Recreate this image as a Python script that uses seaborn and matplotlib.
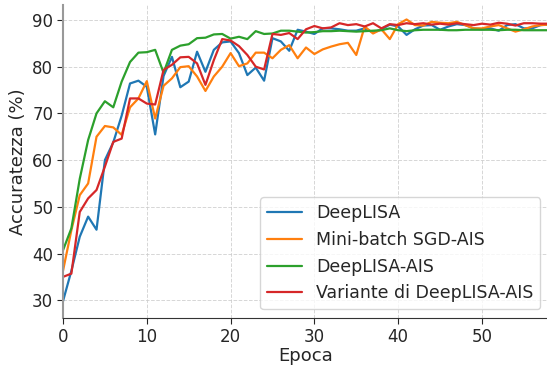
import numpy as np
import pandas as pd
import matplotlib
matplotlib.use("Agg")
import matplotlib.pyplot as plt
import seaborn as sns

epochs = list(range(59))
deeplisa = [29.8, 36.3, 43.6, 47.9, 45.1, 60.0, 63.8, 69.5, 76.4, 77.0, 75.7, 65.5, 78.0, 82.1, 75.6,
            76.8, 83.2, 78.9, 83.6, 85.2, 85.4, 82.9, 78.2, 79.8, 77.0, 86.1, 85.4, 83.4, 87.9, 87.5,
            87.0, 88.2, 88.2, 88.0, 87.7, 87.7, 88.2, 87.3, 88.0, 89.0, 88.6, 86.8, 88.0, 88.8, 88.9,
            87.9, 88.6, 89.1, 88.9, 88.2, 88.0, 88.2, 87.7, 88.9, 89.1, 88.2, 88.2, 88.9, 89.0]
sgd_ais = [36.3, 45.0, 52.5, 55.0, 65.0, 67.3, 67.0, 65.4, 71.3, 73.2, 76.9, 68.9, 75.9, 77.5, 79.9,
           80.1, 77.9, 74.8, 77.9, 80.0, 82.9, 80.1, 80.7, 83.0, 83.0, 81.8, 83.6, 84.6, 81.8, 84.1,
           82.7, 83.7, 84.3, 84.8, 85.1, 82.5, 88.6, 87.1, 88.0, 85.9, 89.1, 90.1, 88.9, 88.8, 89.6,
           89.4, 89.3, 89.6, 88.9, 88.2, 88.2, 88.6, 88.9, 88.2, 87.5, 88.0, 88.6, 88.9, 89.0]
deeplisa_ais = [40.7, 45.4, 56.0, 64.3, 70.0, 72.6, 71.3, 76.8, 81.0, 83.0, 83.1, 83.6, 78.7, 83.6, 84.5,
                84.8, 86.1, 86.2, 86.9, 87.0, 86.0, 86.4, 85.9, 87.6, 87.0, 87.1, 87.7, 87.7, 87.5, 87.3,
                87.4, 87.6, 87.6, 87.7, 87.6, 87.5, 87.6, 87.7, 87.8, 88.2, 87.8, 87.6, 87.8, 87.9, 87.9,
                87.9, 87.8, 87.8, 87.9, 87.9, 87.9, 87.9, 87.8, 87.9, 87.9, 87.8, 87.8, 87.8, 87.8]
variante = [35.0, 35.7, 48.9, 51.8, 53.6, 58.6, 63.9, 64.6, 73.2, 73.2, 72.1, 71.9, 79.3, 80.4, 82.0,
            82.1, 80.7, 76.1, 81.4, 85.9, 85.6, 84.4, 82.5, 80.0, 79.4, 87.0, 86.8, 87.2, 85.9, 88.0,
            88.7, 88.2, 88.4, 89.3, 88.9, 89.1, 88.6, 89.3, 88.2, 89.1, 88.9, 89.3, 89.1, 89.3, 89.0,
            89.2, 89.0, 89.3, 89.1, 88.9, 89.2, 89.0, 89.4, 89.2, 88.8, 89.3, 89.3, 89.2, 89.2]
names = ["DeepLISA", "Mini-batch SGD-AIS", "DeepLISA-AIS", "Variante di DeepLISA-AIS"]
colors = ["#1f77b4", "#ff7f0e", "#2ca02c", "#d62728"]

df = pd.DataFrame({"Epoca": epochs * 4,
                   "Acc": deeplisa + sgd_ais + deeplisa_ais + variante,
                   "Metodo": sum([[n] * len(epochs) for n in names], [])})

sns.set_style("ticks")
plt.rcParams['font.family'] = ['DejaVu Sans']
fig = plt.figure(figsize=(5.47, 3.65), dpi=100)
ax = fig.add_axes([63 / 547, 47 / 365, (549 - 63) / 547, (318 - 5) / 365])
sns.lineplot(data=df, x="Epoca", y="Acc", hue="Metodo", palette=colors, linewidth=1.6, ax=ax)
ax.set_xlim(0, 58)
ax.set_ylim(26.2, 93.2)
ax.set_xticks([0, 10, 20, 30, 40, 50])
ax.set_yticks([30, 40, 50, 60, 70, 80, 90])
ax.grid(True, linestyle='--', color='#cccccc', linewidth=0.7, alpha=0.8)
sns.despine(ax=ax)
ax.spines['left'].set_color('#999999')
ax.spines['left'].set_linewidth(1.5)
ax.spines['bottom'].set_color('#333333')
ax.tick_params(labelsize=12, length=4, pad=3)
ax.set_xlabel("Epoca", fontsize=13, labelpad=1)
ax.set_ylabel("Accuratezza (%)", fontsize=13, labelpad=4)
leg = ax.legend(loc="lower right", fontsize=12.5, title=None, frameon=True)
fig.savefig("out.png", dpi=100)
